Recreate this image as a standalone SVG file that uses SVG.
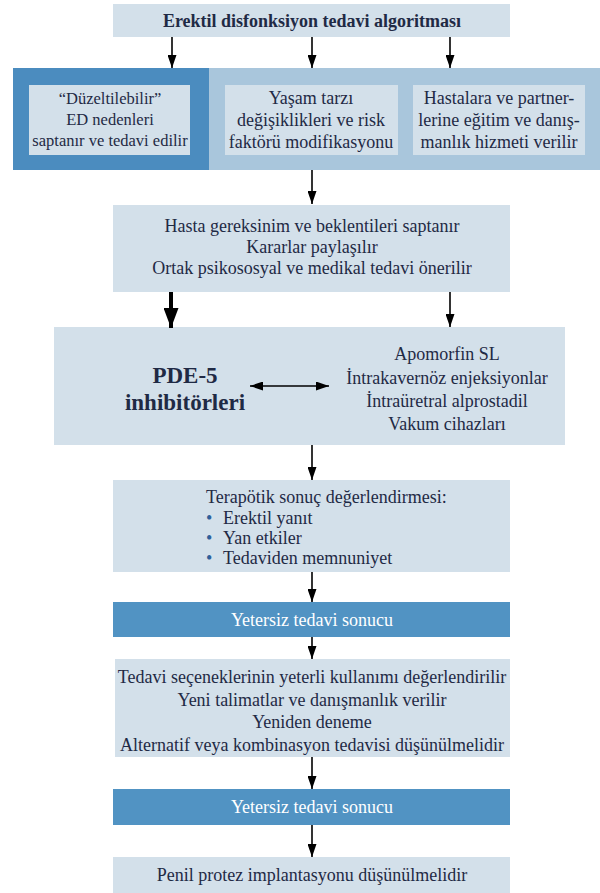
<svg xmlns="http://www.w3.org/2000/svg" width="600" height="893" viewBox="0 0 600 893">
<style>
.lt{fill:#d3e0ea}
.band{fill:#a9c6dc}
.dk{fill:#4b8cbf}
.yt{fill:#5193c3}
text{font-family:"Liberation Serif","DejaVu Serif",serif;fill:#1f2a45;font-size:18px;text-anchor:middle}
.w{fill:#ffffff}
.b{font-weight:bold}
.l{text-anchor:start}
.s{font-size:16.5px}
.bu{fill:#2f5f9a}
.c line{stroke:#000;stroke-width:1.6}
</style>
<defs>
<marker id="ah" viewBox="0 0 10 10" refX="10" refY="5" markerWidth="13" markerHeight="9" markerUnits="userSpaceOnUse" orient="auto-start-reverse" preserveAspectRatio="none">
<path d="M0,0 L10,5 L0,10 z" fill="#000"/>
</marker>
<marker id="ahb" viewBox="0 0 10 10" refX="10" refY="5" markerWidth="20" markerHeight="15" markerUnits="userSpaceOnUse" orient="auto" preserveAspectRatio="none">
<path d="M0,0 L10,5 L0,10 z" fill="#000"/>
</marker>
</defs>
<rect width="600" height="893" fill="#ffffff"/>
<g id="title"><rect class="lt" x="113" y="4" width="397" height="33"/><text x="312" y="27" class="b">Erektil disfonksiyon tedavi algoritması</text></g>
<g id="band"><rect class="band" x="13" y="68" width="587" height="102"/><rect class="dk" x="13" y="68" width="196" height="102"/></g>
<g id="n1"><rect class="lt" x="29" y="85" width="161" height="70"/><text x="110" y="104" class="s">“Düzeltilebilir”</text><text x="110" y="125" class="s">ED nedenleri</text><text x="110" y="146" class="s">saptanır ve tedavi edilir</text></g>
<g id="n2"><rect class="lt" x="225" y="85" width="173" height="70"/><text x="311" y="104">Yaşam tarzı</text><text x="311" y="126">değişiklikleri ve risk</text><text x="311" y="148">faktörü modifikasyonu</text></g>
<g id="n3"><rect class="lt" x="413" y="85" width="172" height="70"/><text x="499" y="104">Hastalara ve partner-</text><text x="499" y="126">lerine eğitim ve danış-</text><text x="499" y="148">manlık hizmeti verilir</text></g>
<g id="n4"><rect class="lt" x="113" y="205" width="397" height="87"/><text x="312" y="232">Hasta gereksinim ve beklentileri saptanır</text><text x="312" y="253">Kararlar paylaşılır</text><text x="312" y="274">Ortak psikososyal ve medikal tedavi önerilir</text></g>
<g id="n5"><rect class="lt" x="54" y="327" width="511" height="118"/><text x="185" y="383" class="b" style="font-size:23px">PDE-5</text><text x="185" y="410" class="b" style="font-size:23px">inhibitörleri</text><text x="447" y="360">Apomorfin SL</text><text x="447" y="384">İntrakavernöz enjeksiyonlar</text><text x="447" y="407">İntraüretral alprostadil</text><text x="447" y="430">Vakum cihazları</text></g>
<g id="n6"><rect class="lt" x="113" y="480" width="397" height="92"/><text x="206" y="503" class="l">Terapötik sonuç değerlendirmesi:</text><text x="206" y="524" class="l bu">•</text><text x="223" y="524" class="l">Erektil yanıt</text><text x="206" y="544" class="l bu">•</text><text x="223" y="544" class="l">Yan etkiler</text><text x="206" y="564" class="l bu">•</text><text x="223" y="564" class="l">Tedaviden memnuniyet</text></g>
<g id="n7"><rect class="yt" x="113" y="602" width="397" height="35"/><text x="312" y="626" class="w">Yetersiz tedavi sonucu</text></g>
<g id="n8"><rect class="lt" x="115" y="659" width="395" height="98"/><text x="312" y="683">Tedavi seçeneklerinin yeterli kullanımı değerlendirilir</text><text x="312" y="706">Yeni talimatlar ve danışmanlık verilir</text><text x="312" y="728">Yeniden deneme</text><text x="312" y="751">Alternatif veya kombinasyon tedavisi düşünülmelidir</text></g>
<g id="n9"><rect class="yt" x="113" y="789" width="397" height="36"/><text x="312" y="813" class="w">Yetersiz tedavi sonucu</text></g>
<g id="n10"><rect class="lt" x="113" y="857" width="397" height="36"/><text x="312" y="881">Penil protez implantasyonu düşünülmelidir</text></g>
<g id="connectors" class="c">
<line x1="172" y1="37" x2="172" y2="68" marker-end="url(#ah)"/>
<line x1="312" y1="37" x2="312" y2="68" marker-end="url(#ah)"/>
<line x1="450" y1="37" x2="450" y2="68" marker-end="url(#ah)"/>
<line x1="312" y1="170" x2="312" y2="204" marker-end="url(#ah)"/>
<line x1="171" y1="292" x2="171" y2="328" style="stroke-width:4" marker-end="url(#ahb)"/>
<line x1="450" y1="292" x2="450" y2="327" marker-end="url(#ah)"/>
<line x1="250" y1="386" x2="329" y2="386" marker-start="url(#ah)" marker-end="url(#ah)"/>
<line x1="312" y1="445" x2="312" y2="480" marker-end="url(#ah)"/>
<line x1="312" y1="572" x2="312" y2="602" marker-end="url(#ah)"/>
<line x1="312" y1="637" x2="312" y2="659" marker-end="url(#ah)"/>
<line x1="312" y1="757" x2="312" y2="789" marker-end="url(#ah)"/>
<line x1="312" y1="825" x2="312" y2="857" marker-end="url(#ah)"/>
</g>
</svg>
